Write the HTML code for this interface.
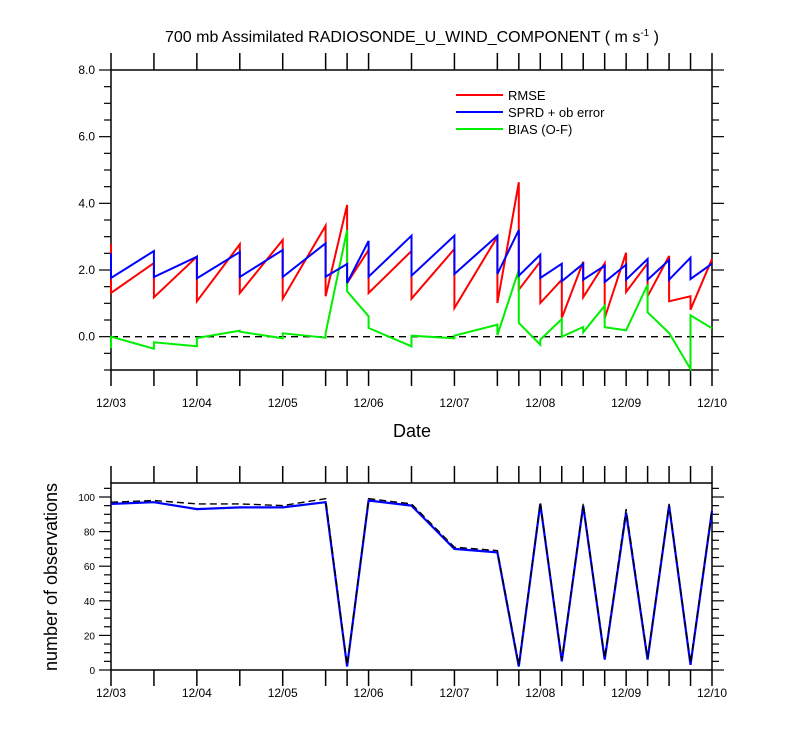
<!DOCTYPE html>
<html><head><meta charset="utf-8"><style>
html,body{margin:0;padding:0;background:#fff;}
svg{display:block;font-family:"Liberation Sans",Arial,sans-serif;}
</style></head><body>
<svg id="chart" width="800" height="750" viewBox="0 0 800 750">
<text x="412" y="42" text-anchor="middle" font-size="16">700 mb Assimilated RADIOSONDE_U_WIND_COMPONENT ( m s<tspan font-size="10" dy="-6">-1</tspan><tspan dy="6"> )</tspan></text>
<text x="412" y="437" text-anchor="middle" font-size="18">Date</text>
<text transform="translate(57,577) rotate(-90)" text-anchor="middle" font-size="18">number of observations</text>
</svg>
<script>
// Time points in days since 12/03 00Z; each time has an "end" (value before the jump) and "start" (value after jump)
const times = [0,0.5,1,1.5,2,2.5,2.75,3,3.5,4,4.5,4.75,5,5.25,5.5,5.75,6,6.25,6.5,6.75,7];
const rmseEnd   = [2.78,2.21,2.40,2.77,2.90,3.33,3.95,2.60,2.57,2.63,3.00,4.63,2.25,1.71,2.25,2.20,2.52,2.20,2.42,1.21,2.33];
const rmseStart = [1.31,1.18,1.06,1.31,1.14,1.21,1.61,1.31,1.14,0.86,1.01,1.41,1.01,0.56,1.18,0.56,1.34,1.21,1.06,0.81,2.33];
const sprdEnd   = [2.50,2.57,2.40,2.54,2.60,2.80,2.18,2.87,3.03,3.03,3.03,3.20,2.46,2.19,2.19,2.13,2.16,2.33,2.30,2.37,2.19];
const sprdStart = [1.76,1.79,1.75,1.79,1.79,1.80,1.61,1.80,1.83,1.88,1.88,1.83,1.76,1.66,1.71,1.64,1.71,1.71,1.71,1.73,2.19];
const biasEnd   = [-0.35,-0.36,-0.29,0.18,-0.05,-0.03,3.20,0.61,-0.29,-0.05,0.36,2.00,-0.24,0.53,0.29,0.93,0.19,1.56,0.11,-0.97,0.25];
const biasStart = [0.00,-0.17,-0.04,0.15,0.10,0.10,1.36,0.26,0.03,0.03,0.05,0.41,-0.09,0.00,0.13,0.28,0.19,0.73,0.11,0.64,0.25];
const nobsUsed  = [96,97,93,94,94,97,2,98,95,70,68,2,96,5,95,6,91,6,95,3,92];
const nobsTotal = [97,98,96,96,95,99,3,99,96,71,69,3,97,6,96,7,93,7,96,4,93];
const dateLabels = ['12/03','12/04','12/05','12/06','12/07','12/08','12/09','12/10'];
const topTicks = ['-1','0.0','2.0','4.0','6.0','8.0'];

const NS='http://www.w3.org/2000/svg';
const svg=document.getElementById('chart');
const X0=111,X1=712;
const xs=t=>X0+(X1-X0)*t/7;
const yTop=v=>370-(v+1)*(300/9);
const yBot=v=>670-v*1.73;
function mk(tag,attrs,parent){const e=document.createElementNS(NS,tag);for(const k in attrs)e.setAttribute(k,attrs[k]);(parent||svg).appendChild(e);return e;}

function frame(top,bot,name){
  const g=mk('g',{});
  
  
  mk('rect',{x:X0,y:top,width:X1-X0,height:bot-top,fill:'none',stroke:'#000','stroke-width':1.5},g);
  times.forEach(t=>{
    const x=xs(t);
    mk('line',{x1:x,y1:top,x2:x,y2:top-17,stroke:'#000','stroke-width':1.5},g);
    mk('line',{x1:x,y1:bot,x2:x,y2:bot+16,stroke:'#000','stroke-width':1.5},g);
  });
  return g;
}
// ---- Top panel
const gTop=frame(70,370,'top-plot-frame');
for(let v=-1;v<=8.001;v+=0.5){
  const y=yTop(v);const major=Math.abs(v/2-Math.round(v/2))<1e-6;const L=major?12:7;
  mk('line',{x1:X0,y1:y,x2:X0-L,y2:y,stroke:'#000','stroke-width':1.2},gTop);
  mk('line',{x1:X1,y1:y,x2:X1+L,y2:y,stroke:'#000','stroke-width':1.2},gTop);
}
topTicks.forEach(s=>{
  if(s==='-1')return;
  const t=mk('text',{x:X0-16,y:yTop(parseFloat(s))+4,'text-anchor':'end','font-size':12});
  
  
  t.textContent=s;
});
dateLabels.forEach((s,i)=>{
  const t=mk('text',{x:xs(i),y:407,'text-anchor':'middle','font-size':12});
  
  
  t.textContent=s;
  const t2=mk('text',{x:xs(i),y:697,'text-anchor':'middle','font-size':12});
  
  
  t2.textContent=s;
});
const zl=mk('line',{x1:X0,y1:yTop(0),x2:X1,y2:yTop(0),stroke:'#000','stroke-width':1.3,'stroke-dasharray':'7,5'});



function saw(endArr,startArr){
  const pts=[];
  times.forEach((t,i)=>{pts.push([xs(t),yTop(endArr[i])]);pts.push([xs(t),yTop(startArr[i])]);});
  return pts.map(p=>p[0].toFixed(1)+','+p[1].toFixed(1)).join(' ');
}
const lr=mk('polyline',{points:saw(rmseEnd,rmseStart),fill:'none',stroke:'#ff0000','stroke-width':2});


const lg=mk('polyline',{points:saw(biasEnd,biasStart),fill:'none',stroke:'#00ee00','stroke-width':2});


const lb=mk('polyline',{points:saw(sprdEnd,sprdStart),fill:'none',stroke:'#0000ff','stroke-width':2});



const legItems=[['RMSE','#ff0000',95],['SPRD + ob error','#0000ff',112],['BIAS (O-F)','#00ee00',129]];
legItems.forEach(it=>{
  const g=mk('g',{});
  
  
  mk('line',{x1:456,y1:it[2],x2:503,y2:it[2],stroke:it[1],'stroke-width':2},g);
  const t=mk('text',{x:508,y:it[2]+5,'font-size':13},g);t.textContent=it[0];
});

// ---- Bottom panel
const gBot=frame(483,670,'bottom-plot-frame');
for(let v=0;v<=105;v+=5){
  const y=yBot(v);const major=v%20===0;const L=major?12:7;
  mk('line',{x1:X0,y1:y,x2:X0-L,y2:y,stroke:'#000','stroke-width':1.2},gBot);
  mk('line',{x1:X1,y1:y,x2:X1+L,y2:y,stroke:'#000','stroke-width':1.2},gBot);
  if(major){
    const t=mk('text',{x:X0-16,y:y+4,'text-anchor':'end','font-size':10},gBot);
    t.textContent=String(v);
  }
}
const pl=arr=>times.map((t,i)=>xs(t).toFixed(1)+','+yBot(arr[i]).toFixed(1)).join(' ');
const nb=mk('polyline',{points:pl(nobsUsed),fill:'none',stroke:'#0000ff','stroke-width':2.2});


const nt=mk('polyline',{points:pl(nobsTotal),fill:'none',stroke:'#000','stroke-width':1.4,'stroke-dasharray':'7,4'});


</script>
</body></html>
